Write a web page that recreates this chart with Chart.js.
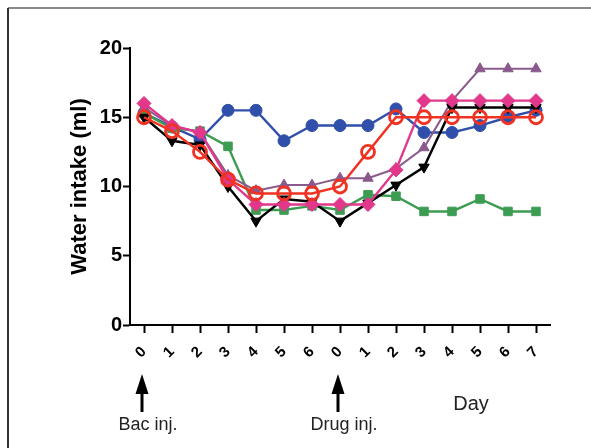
<!DOCTYPE html>
<html>
<head>
<meta charset="utf-8">
<script src="https://cdn.jsdelivr.net/npm/chart.js@4/dist/chart.umd.min.js"></script>
<style>
  html, body { margin: 0; padding: 0; background: #fff; }
  #wrap { width: 591px; height: 448px; position: relative; }
</style>
</head>
<body>
<div id="wrap"><canvas id="waterChart"></canvas></div>
<script>
// Day labels: 0-6 after bacteria injection, 0-7 after drug injection
const days = ['0', '1', '2', '3', '4', '5', '6', '0', '1', '2', '3', '4', '5', '6', '7'];
const yTicks = [0, 5, 10, 15, 20];

const blueSeries   = [15.3, 14.3, 13.4, 15.5, 15.5, 13.3, 14.4, 14.4, 14.4, 15.6, 13.9, 13.9, 14.4, 15.0, 15.5];
const greenSeries  = [15.3, 14.2, 14.0, 12.9, 8.3, 8.3, 8.6, 8.3, 9.4, 9.3, 8.2, 8.2, 9.1, 8.2, 8.2];
const blackSeries  = [15.0, 13.3, 13.0, 10.0, 7.5, 9.1, 8.9, 7.5, 8.8, 10.1, 11.4, 15.7, 15.7, 15.7, 15.7];
const purpleSeries = [15.7, 14.4, 13.9, 10.8, 9.7, 10.1, 10.1, 10.6, 10.6, 11.3, 12.8, 16.2, 18.5, 18.5, 18.5];
const pinkSeries   = [16.0, 14.4, 13.9, 10.5, 8.7, 8.7, 8.7, 8.7, 8.7, 11.2, 16.2, 16.2, 16.2, 16.2, 16.2];
const redSeries    = [15.0, 14.0, 12.5, 10.5, 9.5, 9.5, 9.5, 10.0, 12.5, 15.0, 15.0, 15.0, 15.0, 15.0, 15.0];

// injection markers under the x axis (category index, text)
const injections = [[0, 'Bac inj.'], [7, 'Drug inj.']];

const FONT = "'Liberation Sans', Arial, sans-serif";

// frame, arrows and notes drawn outside the plot
const notesPlugin = {
    id: 'notes',
    beforeDraw(chart) {
        const c = chart.ctx;
        c.save();
        c.fillStyle = '#fff';
        c.fillRect(0, 0, chart.width, chart.height);
        c.fillStyle = '#8a8a8a';
        c.fillRect(8, 7, chart.width - 8, 2);
        c.fillStyle = '#333';
        c.fillRect(7, 8, 2, chart.height - 8);
        c.restore();
    },
    afterDraw(chart) {
        const c = chart.ctx;
        const x = chart.scales.x;
        c.save();
        c.fillStyle = '#000';
        c.strokeStyle = '#000';
        injections.forEach(([i, text]) => {
            const px = x.getPixelForTick(i) - 2;
            c.lineWidth = 3;
            c.beginPath();
            c.moveTo(px, 412);
            c.lineTo(px, 390);
            c.stroke();
            c.beginPath();
            c.moveTo(px, 374);
            c.lineTo(px - 6.5, 394);
            c.lineTo(px + 6.5, 394);
            c.closePath();
            c.fill();
            c.font = '18px ' + FONT;
            c.textAlign = 'center';
            c.textBaseline = 'middle';
            c.fillStyle = '#222';
            c.fillText(text, px + 6, 425);
            c.fillStyle = '#000';
        });
        c.font = '20px ' + FONT;
        c.textAlign = 'center';
        c.textBaseline = 'middle';
        c.fillStyle = '#222';
        c.fillText('Day', 471, 404);
        c.restore();
    }
};

function series(label, data, color, style, extra) {
    return Object.assign({
        label: label,
        data: data,
        borderColor: color,
        backgroundColor: color,
        pointBackgroundColor: color,
        pointBorderColor: color,
        pointStyle: style,
        pointRadius: 6,
        pointBorderWidth: 1,
        borderWidth: 2.4,
        tension: 0,
        fill: false
    }, extra || {});
}

const ctx = document.getElementById('waterChart').getContext('2d');
new Chart(ctx, {
    type: 'line',
    data: {
        labels: days,
        datasets: [
            series('Red', redSeries, '#f03223', 'circle',
                { pointRadius: 6.5, pointBorderWidth: 2.8, pointBackgroundColor: 'rgba(0,0,0,0)' }),
            series('Pink', pinkSeries, '#e2388c', 'rectRot', { pointRadius: 7 }),
            series('Black', blackSeries, '#000000', 'triangle', { pointRotation: 180, pointRadius: 6 }),
            series('Purple', purpleSeries, '#8b5a8d', 'triangle', { pointRadius: 6, borderWidth: 2 }),
            series('Green', greenSeries, '#3c9c52', 'rect', { pointRadius: 6 }),
            series('Blue', blueSeries, '#2f4fab', 'circle', { pointRadius: 6 })
        ]
    },
    options: {
        responsive: true,
        maintainAspectRatio: false,
        animation: false,
        layout: {
            padding: { left: 60, top: 48, right: 41, bottom: 83 }
        },
        plugins: {
            legend: { display: false },
            tooltip: { enabled: false }
        },
        scales: {
            x: {
                type: 'category',
                offset: true,
                grid: {
                    offset: false,
                    drawOnChartArea: false,
                    drawTicks: true,
                    tickLength: 8,
                    tickWidth: 2,
                    tickColor: '#000'
                },
                border: { color: '#000', width: 2 },
                ticks: {
                    color: '#000',
                    font: { family: FONT, size: 15, weight: 'bold' },
                    minRotation: 45,
                    maxRotation: 45,
                    padding: 10,
                    autoSkip: false
                },
                afterFit(scale) { scale.height = 40; }
            },
            y: {
                min: 0,
                max: 20,
                afterBuildTicks(scale) {
                    scale.ticks = yTicks.map(v => ({ value: v }));
                },
                grid: {
                    drawOnChartArea: false,
                    drawTicks: true,
                    tickLength: 7,
                    tickWidth: 2,
                    tickColor: '#000'
                },
                border: { color: '#000', width: 2 },
                ticks: {
                    color: '#000',
                    font: { family: FONT, size: 20, weight: 'bold' },
                    padding: 1
                },
                title: {
                    display: true,
                    text: 'Water intake (ml)',
                    color: '#000',
                    font: { family: FONT, size: 22, weight: 'bold' },
                    padding: { top: 7, bottom: 0 }
                },
                afterFit(scale) { scale.width = 70; }
            }
        }
    },
    plugins: [notesPlugin]
});
</script>
</body>
</html>
